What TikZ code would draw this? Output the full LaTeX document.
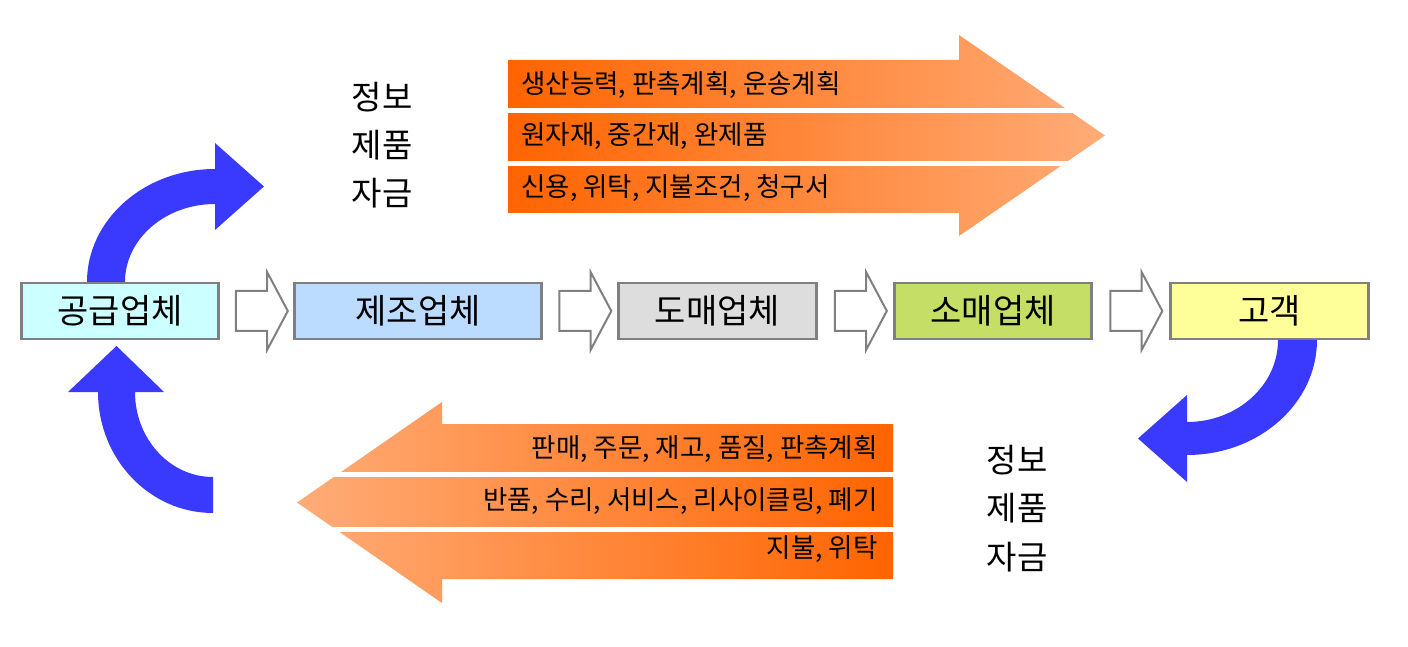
\documentclass[tikz,border=0pt]{standalone}
\usepackage{fontspec}
\setmainfont{Noto Sans CJK KR}
\usepackage{tikz}
\usetikzlibrary{shapes.arrows}
\usetikzlibrary{calc}
\usetikzlibrary{positioning}
\definecolor{boxgray}{RGB}{128,128,128}
\definecolor{supcol}{RGB}{204,255,255}
\definecolor{mancol}{RGB}{187,219,255}
\definecolor{whocol}{RGB}{221,221,221}
\definecolor{retcol}{RGB}{196,222,102}
\definecolor{cuscol}{RGB}{255,255,153}
\definecolor{bendblue}{RGB}{58,58,255}
\definecolor{flowdark}{RGB}{255,100,0}
\definecolor{flowlight}{RGB}{255,172,120}
\tikzstyle{firm} = [draw=boxgray, line width=2.5pt, minimum height=56pt, inner sep=0pt, font=\fontsize{34}{40}\selectfont]
\tikzstyle{hollow} = [single arrow, draw=boxgray, fill=white, line width=2pt, minimum height=52pt, inner xsep=15pt, inner ysep=19pt, single arrow head extend=19pt, single arrow tip angle=124]
\tikzstyle{flowtext} = [inner sep=0pt, font=\fontsize{26.5}{31}\selectfont]
\tikzstyle{sidetext} = [inner sep=0pt, font=\fontsize{33}{38}\selectfont]

\begin{document}
\begin{tikzpicture}[x=1pt,y=1pt,thick,>=stealth]
\useasboundingbox (0,0) rectangle (1408,646);

% Nodes
\node[firm, fill=supcol, minimum width=197pt] (sup) at (120,335) {공급업체};
\node[firm, fill=mancol, minimum width=247pt] (man) at (418,335) {제조업체};
\node[firm, fill=whocol, minimum width=198pt] (who) at (717.5,335) {도매업체};
\node[firm, fill=retcol, minimum width=197pt] (ret) at (993,335) {소매업체};
\node[firm, fill=cuscol, minimum width=198pt] (cus) at (1269.5,335) {고객};

% Block arrows
\node[hollow] (h1) at ($(sup.east)!0.5!(man.west)$) {};
\node[hollow] (h2) at ($(man.east)!0.5!(who.west)$) {};
\node[hollow] (h3) at ($(who.east)!0.5!(ret.west)$) {};
\node[hollow] (h4) at ($(ret.east)!0.5!(cus.west)$) {};

% Forward flow
\shade[left color=flowdark, right color=flowlight] (508,586) -- (959,586) -- (959,611) -- (1105,510.5) -- (959,410) -- (959,433) -- (508,433) -- cycle;
\draw[white, line width=5pt] (500,535.5) -- (1110,535.5);
\draw[white, line width=5pt] (500,482) -- (1110,482);
\node[flowtext, anchor=west] (f1) at (521,561) {생산능력, 판촉계획, 운송계획};
\node[flowtext, anchor=west] (f2) at (521,510) {원자재, 중간재, 완제품};
\node[flowtext, anchor=west] (f3) at (521,458) {신용, 위탁, 지불조건, 청구서};

% Backward flow
\shade[left color=flowlight, right color=flowdark] (893,222) -- (442,222) -- (442,244) -- (297,143.5) -- (442,43) -- (442,67) -- (893,67) -- cycle;
\draw[white, line width=5pt] (290,171.5) -- (900,171.5);
\draw[white, line width=5pt] (290,116.5) -- (900,116.5);
\node[flowtext, anchor=east] (b1) at (878,197) {판매, 주문, 재고, 품질, 판촉계획};
\node[flowtext, anchor=east] (b2) at (878,145) {반품, 수리, 서비스, 리사이클링, 폐기};
\node[flowtext, anchor=east] (b3) at (878,97) {지불, 위탁};

% Side labels
\node[sidetext] (i1) at (382,549) {정보};
\node[sidetext] (p1) at (382,501) {제품};
\node[sidetext] (m1) at (382,453) {자금};
\node[sidetext] (i2) at (1017,186) {정보};
\node[sidetext] (p2) at (1017,138) {제품};
\node[sidetext] (m2) at (1017,89) {자금};

% Curved arrows
\fill[bendblue] (87,364) arc[start angle=180, end angle=90, x radius=128, y radius=113]
  -- (215,503) -- (264,459.5) -- (215,416) -- (215,442)
  arc[start angle=90, end angle=180, x radius=90, y radius=78] -- cycle;
\fill[bendblue] (213,133) arc[start angle=270, end angle=180, x radius=115, y radius=121]
  -- (68,254) -- (116.5,300) -- (164,254) -- (135,254)
  arc[start angle=180, end angle=270, x radius=78, y radius=85] -- cycle;
\fill[bendblue] (1317,306) arc[start angle=0, end angle=-90, x radius=130, y radius=115]
  -- (1187,164) -- (1138,207.5) -- (1187,251) -- (1187,224)
  arc[start angle=-90, end angle=0, x radius=91, y radius=82] -- cycle;

\end{tikzpicture}
\end{document}
